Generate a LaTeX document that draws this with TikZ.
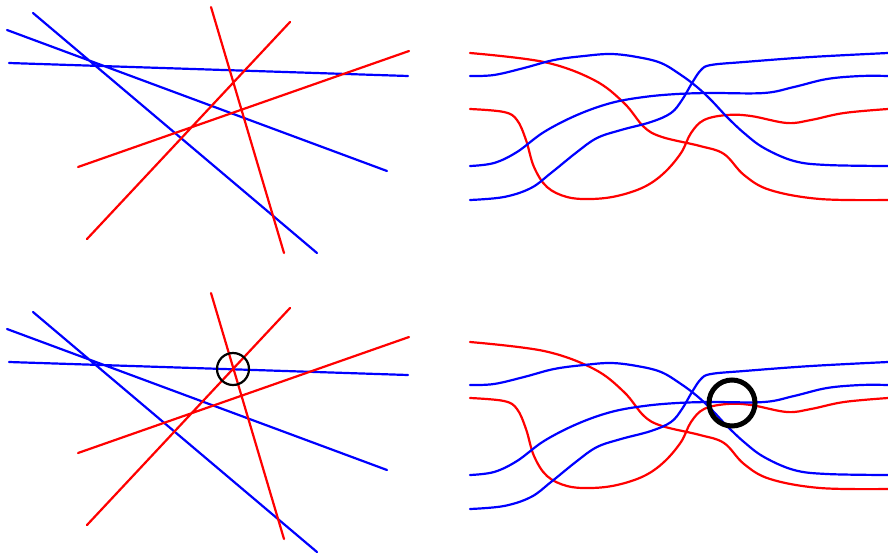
\documentclass[tikz,border=0pt]{standalone}
\begin{document}
\begin{tikzpicture}[x=1pt,y=-1pt,line cap=round,
    bl/.style={blue,line width=2.2pt},
    rl/.style={red,line width=2.2pt},
    cv/.style={smooth,tension=0.6}]
\useasboundingbox (0,0) rectangle (888,555);
% straight lines, top and bottom
\foreach \db/\dr in {0/0,299/286}{
  \draw[bl,shift={(0,\db)}] (33,13)--(317,253) (7,30)--(387,171) (9,63)--(408,76);
  \draw[rl,shift={(0,\dr)}] (211,7)--(284,253) (290,22)--(87,239) (409,51)--(78,167);
}
\draw[line width=2.2pt] (233,369) circle[radius=16pt];
% curves, top and bottom
\foreach \db/\dr in {0/0,309/289}{
  \draw[rl,shift={(0,\dr)}] plot[cv] coordinates {(470,53) (544,62) (594,80) (624,103) (644,127)
    (662,137) (700,146) (724,154) (744,175) (770,190) (820,199) (888,200)};
  \draw[rl,shift={(0,\dr)}] plot[cv] coordinates {(470,109) (504,112) (517,120) (526,140) (534,167)
    (547,187) (567,197) (591,199) (617,196) (644,187) (664,173) (681,153) (691,133) (704,120)
    (727,115) (751,116) (787,123) (811,120) (844,113) (888,109)};
  \draw[bl,shift={(0,\db)}] plot[cv] coordinates {(470,76) (494,75) (524,68) (554,60) (584,56)
    (611,54) (637,57) (661,63) (681,75) (697,87) (711,100) (727,117) (744,133) (764,148)
    (794,161) (827,165) (888,166)};
  \draw[bl,shift={(0,\db)}] plot[cv] coordinates {(470,166) (494,163) (517,152) (544,132) (577,115)
    (611,103) (644,97) (677,94) (711,93) (764,93) (794,87) (827,79) (861,76) (888,76)};
  \draw[bl,shift={(0,\db)}] plot[cv] coordinates {(470,200) (504,197) (531,188) (551,173) (577,152)
    (597,138) (621,130) (651,122) (671,113) (682,100) (692,83) (701,70) (711,65) (744,62)
    (811,57) (888,53)};
}
\draw[line width=5pt] (732,403) circle[radius=23pt];
\end{tikzpicture}
\end{document}
